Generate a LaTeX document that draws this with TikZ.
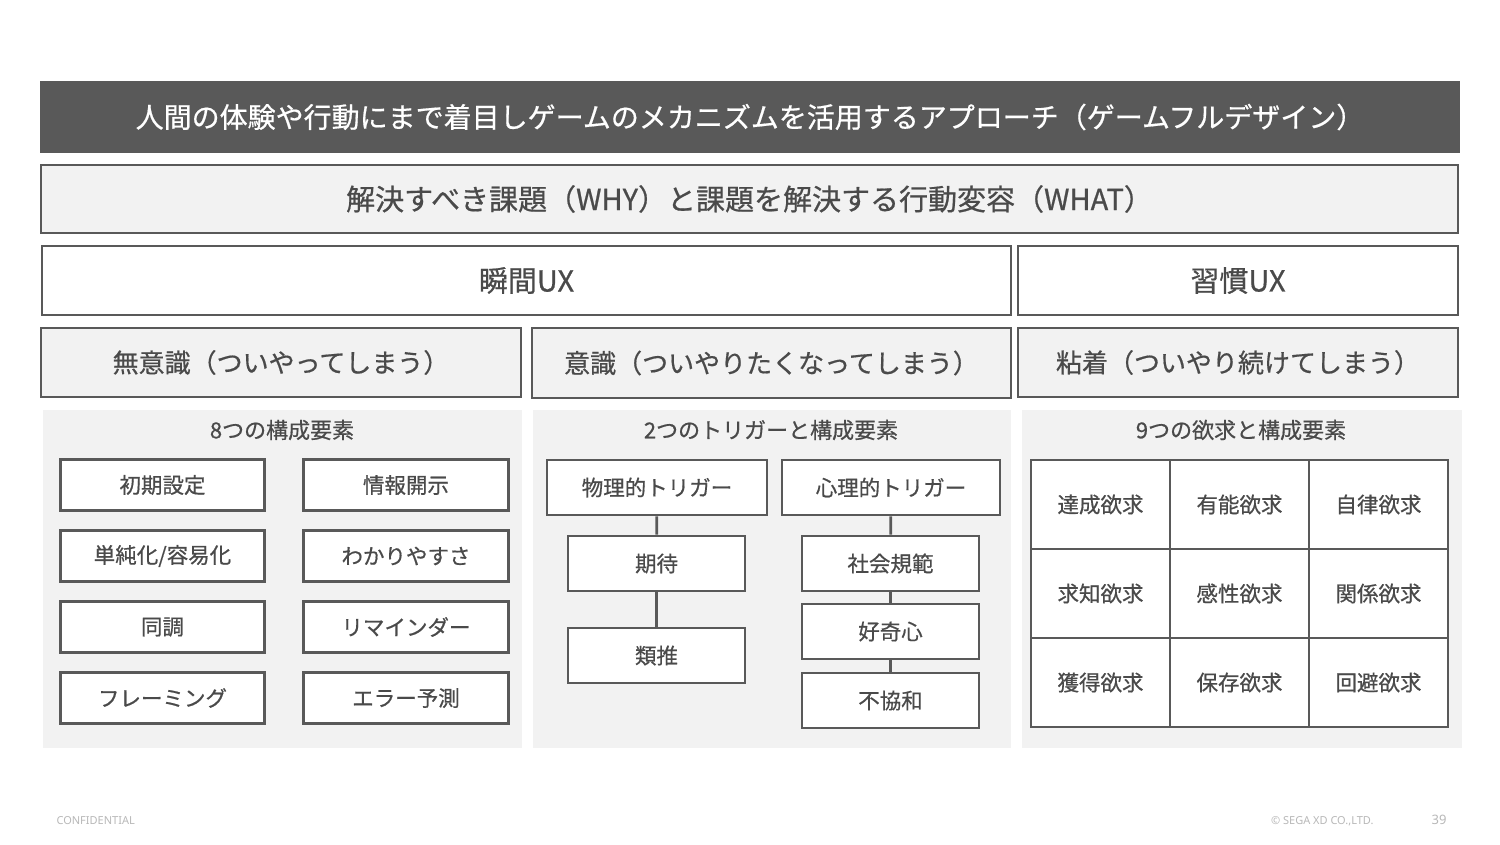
\documentclass[tikz,border=0pt]{standalone}
\usepackage{fontspec}
\setmainfont{Noto Sans CJK JP}[FakeBold=0.6]
\newfontfamily\fussfont{Noto Sans}
\definecolor{rahmen}{HTML}{595959}
\definecolor{schrift}{HTML}{4A4A4A}
\definecolor{hell}{HTML}{F2F2F2}
\definecolor{fussgrau}{HTML}{B8B8B8}
\tikzset{
  balken/.style={fill=rahmen, text=white, inner sep=0pt, font=\fontsize{28}{32}\selectfont},
  ebene/.style={draw=rahmen, line width=2.8pt, fill=hell, text=schrift, inner sep=0pt, font=\fontsize{26}{32}\selectfont},
  ebeneweiss/.style={ebene, fill=white},
  kasten/.style={draw=rahmen, line width=2.8pt, fill=white, text=schrift, inner sep=0pt, font=\fontsize{21.5}{25}\selectfont},
  feld/.style={kasten, minimum width=139pt, minimum height=89pt},
  paneltitel/.style={text=schrift, font=\fontsize{22}{25}\selectfont},
  linie/.style={draw=rahmen, line width=2.8pt},
  fuss/.style={text=fussgrau, font=\fussfont\fontsize{11}{13}\selectfont}
}

\begin{document}
\begin{tikzpicture}[x=1pt,y=-1pt]
			\useasboundingbox[fill=white] (0,0) rectangle (1500,844);
			% Titel zeichnen
			\node[balken, minimum width=1420pt, minimum height=72pt] (titel) at (750,117) {人間の体験や行動にまで着目しゲームのメカニズムを活用するアプローチ（ゲームフルデザイン）};
			% Ebenen zeichnen
			\node[ebene, minimum width=1417pt, minimum height=68pt, font=\fontsize{29}{32}\selectfont] (warum) at (749.5,199) {解決すべき課題（WHY）と課題を解決する行動変容（WHAT）};
			\node[ebeneweiss, minimum width=969pt, minimum height=69pt, font=\fontsize{29}{32}\selectfont] (moment) at (526.5,280.5) {瞬間UX};
			\node[ebeneweiss, minimum width=440pt, minimum height=69pt, font=\fontsize{29}{32}\selectfont] (gewohnheit) at (1238,280.5) {習慣UX};
			\node[ebene, minimum width=480pt, minimum height=69pt] (unbewusst) at (281,362.5) {無意識（ついやってしまう）};
			\node[ebene, minimum width=479pt, minimum height=70pt] (bewusst) at (771.5,363) {意識（ついやりたくなってしまう）};
			\node[ebene, minimum width=440pt, minimum height=69pt] (haften) at (1238,362.5) {粘着（ついやり続けてしまう）};
			% Felder zeichnen
			\fill[hell] (43,410) rectangle (522,748);
			\fill[hell] (533,410) rectangle (1011,748);
			\fill[hell] (1022,410) rectangle (1462,748);
			\node[paneltitel] (tlinks) at (282,430) {8つの構成要素};
			\node[paneltitel] (tmitte) at (771,430) {2つのトリガーと構成要素};
			\node[paneltitel] (trechts) at (1241,430) {9つの欲求と構成要素};
			% Acht Elemente
			\foreach \a/\b [count=\i] in {初期設定/情報開示, {単純化/容易化}/わかりやすさ, 同調/リマインダー, フレーミング/エラー予測}
			{
				\node[kasten, minimum width=204pt, minimum height=51pt] (l\i) at (162.5,414+71*\i) {\a};
				\node[kasten, minimum width=205pt, minimum height=51pt] (r\i) at (406,414+71*\i) {\b};
			}
			% Trigger zeichnen
			\node[kasten, minimum width=220pt, minimum height=55pt] (physisch) at (657,487.5) {物理的トリガー};
			\node[kasten, minimum width=218pt, minimum height=55pt] (psychisch) at (891,487.5) {心理的トリガー};
			\node[kasten, minimum width=177pt, minimum height=55pt] (erwartung) at (656.5,563.5) {期待};
			\node[kasten, minimum width=177pt, minimum height=55pt] (analogie) at (656.5,655.5) {類推};
			\node[kasten, minimum width=177pt, minimum height=55pt] (norm) at (890.5,563.5) {社会規範};
			\node[kasten, minimum width=177pt, minimum height=55pt] (neugier) at (890.5,631.5) {好奇心};
			\node[kasten, minimum width=177pt, minimum height=55pt] (dissonanz) at (890.5,700.5) {不協和};
			\draw[linie] (physisch) -- (erwartung);
			\draw[linie] (erwartung) -- (analogie);
			\draw[linie] (psychisch) -- (norm);
			\draw[linie] (norm) -- (neugier);
			\draw[linie] (neugier) -- (dissonanz);
			% Neun Bedürfnisse
			\foreach \t [count=\k from 0] in {達成欲求,有能欲求,自律欲求,求知欲求,感性欲求,関係欲求,獲得欲求,保存欲求,回避欲求}
			{
				\pgfmathtruncatemacro{\sp}{mod(\k,3)}
				\pgfmathtruncatemacro{\ze}{div(\k,3)}
				\node[feld] (f\k) at (1100.5+139*\sp,504.5+89*\ze) {\t};
			}
			% Fusszeile
			\node[fuss, anchor=west] (vertraulich) at (53,821) {CONFIDENTIAL};
			\node[fuss, anchor=east] (firma) at (1377,821) {© SEGA XD CO.,LTD.};
			\node[fuss, font=\fussfont\fontsize{13}{15}\selectfont] (seite) at (1439,820) {39};
		\end{tikzpicture}
\end{document}
